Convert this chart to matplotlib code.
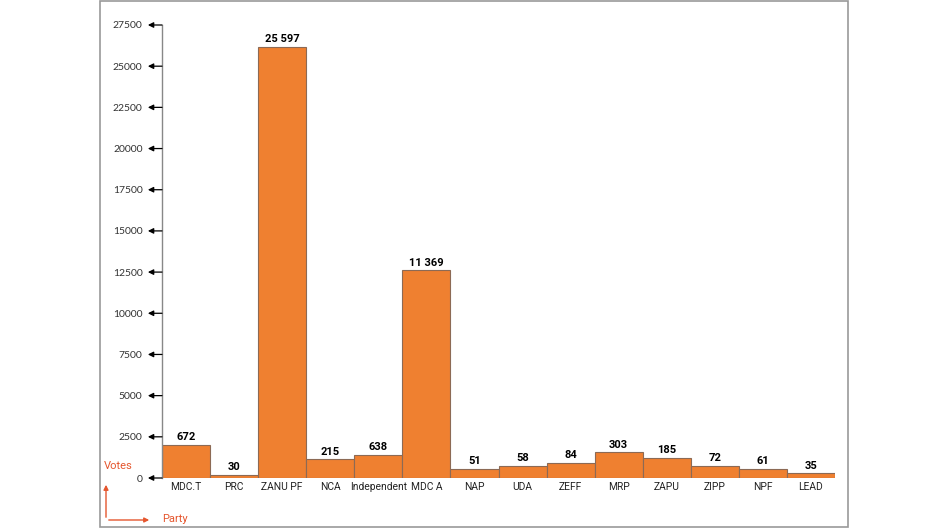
import matplotlib.pyplot as plt
from matplotlib.patches import Rectangle, FancyArrowPatch

# party names along the bottom
parties = ["MDC.T", "PRC", "ZANU PF", "NCA", "Independent", "MDC A", "NAP",
           "UDA", "ZEFF", "MRP", "ZAPU", "ZIPP", "NPF", "LEAD"]
# numbers printed above each bar
votes = [672, 30, 25597, 215, 638, 11369, 51, 58, 84, 303, 185, 72, 61, 35]
# bar heights as drawn against the axis (they do not follow the labels)
bar_heights = [2000, 180, 26170, 1135, 1395, 12600, 565, 750, 910, 1560, 1230, 750, 530, 285]
yticks = [0, 2500, 5000, 7500, 10000, 12500, 15000, 17500, 20000, 22500, 25000, 27500]

orange = "#EF8030"
red = "#E5562E"
narrow = ["Roboto", "DejaVu Sans"]

fig = plt.figure(figsize=(9.48, 5.3), dpi=100)
ax = fig.add_axes([162 / 948, 52 / 530, 673 / 948, 453 / 530])

x = range(len(parties))
ax.bar(x, bar_heights, width=1.0, color=orange, edgecolor="#8C6A55", linewidth=0.8)

for i, (h, v) in enumerate(zip(bar_heights, votes)):
    ax.annotate(f"{v:,}".replace(",", " "), (i, h), xytext=(0, 2), textcoords="offset points",
                ha="center", va="bottom", fontsize=8, fontweight="bold", family=narrow)

ax.set_xlim(-0.5, len(parties) - 0.5)
ax.set_ylim(0, 27500)
ax.set_xticks(list(x))
ax.set_xticklabels(parties, family=narrow, fontsize=7.4, color="#222222")
ax.tick_params(axis="x", length=0, pad=3)
ax.set_yticks(yticks)
ax.set_yticklabels([str(t) for t in yticks], fontsize=7.5, color="#333333",
                   family=["Lato", "DejaVu Sans"])
ax.tick_params(axis="y", length=0, pad=14)

for s in ["top", "right", "bottom"]:
    ax.spines[s].set_visible(False)
ax.spines["left"].set_color("#888888")
ax.spines["left"].set_linewidth(1.0)

# arrow tick marks pointing left
ytr = ax.get_yaxis_transform()
for t in yticks:
    ax.annotate("", xy=(-0.021, t), xycoords=ytr, xytext=(0, t), textcoords=ytr,
                arrowprops=dict(arrowstyle="-|>", color="black", lw=0.9,
                                mutation_scale=8, shrinkA=0, shrinkB=0),
                annotation_clip=False)

# outer frame
fig.patches.append(Rectangle((100 / 948, 3 / 530), 748 / 948, 526 / 530,
                             transform=fig.transFigure, fill=False,
                             edgecolor="#999999", linewidth=1.2))

# Votes / Party corner key
ox, oy = 106 / 948, 10 / 530
fig.patches.append(FancyArrowPatch((ox, oy), (ox, 48 / 530), transform=fig.transFigure,
                                   arrowstyle="-|>", mutation_scale=7, color=red, lw=1))
fig.patches.append(FancyArrowPatch((ox, oy), (152 / 948, oy), transform=fig.transFigure,
                                   arrowstyle="-|>", mutation_scale=7, color=red, lw=1))
fig.text(104 / 948, 64 / 530, "Votes", color=red, fontsize=8, family=narrow, va="center")
fig.text(162 / 948, 11 / 530, "Party", color=red, fontsize=8, family=narrow, va="center")

fig.savefig("out.png", dpi=100)
